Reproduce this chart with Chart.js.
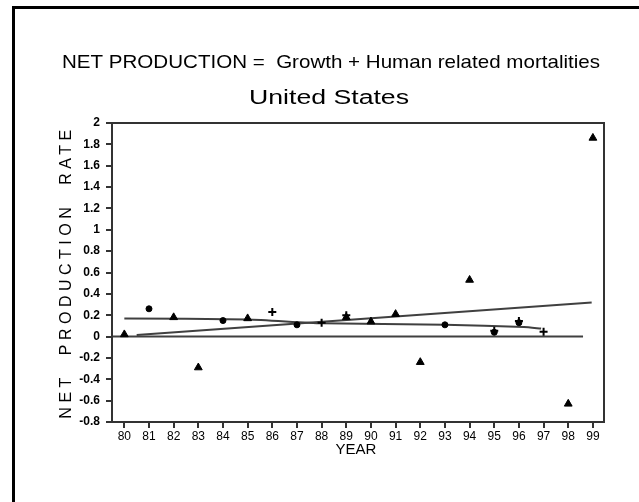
<!DOCTYPE html>
<html>
<head>
<meta charset="utf-8">
<script src="https://cdn.jsdelivr.net/npm/chart.js@4/dist/chart.umd.min.js"></script>
<style>
html,body{margin:0;padding:0;background:#fff;}
#wrap{width:639px;height:502px;position:relative;}
</style>
</head>
<body>
<div id="wrap"><canvas id="c" width="639" height="502"></canvas></div>
<script>
// ---- data ----
const titleLine1 = "NET PRODUCTION =  Growth + Human related mortalities";
const titleLine2 = "United States";
const yAxisTitle = "NET  PRODUCTION  RATE";
const xAxisTitle = "YEAR";
const yearTicks = [80,81,82,83,84,85,86,87,88,89,90,91,92,93,94,95,96,97,98,99];
const yearLabels = ["80","81","82","83","84","85","86","87","88","89","90","91","92","93","94","95","96","97","98","99"];
const yMin = -0.8, yMax = 2, yStep = 0.2;

const triYears  = [80, 82, 83, 85, 89, 90, 91, 92, 94, 98, 99];
const triValues = [0.02, 0.18, -0.29, 0.17, 0.18, 0.14, 0.21, -0.24, 0.53, -0.63, 1.86];
const dotYears  = [81, 84, 87, 93, 95, 96];
const dotValues = [0.26, 0.15, 0.11, 0.11, 0.04, 0.13];
const plusYears  = [86, 88, 89, 95, 96, 97];
const plusValues = [0.23, 0.13, 0.20, 0.055, 0.145, 0.045];

const riseYears  = [80.5, 98.95];
const riseValues = [0.015, 0.32];
const fallYears  = [80, 85, 88, 93, 96.2, 96.9];
const fallValues = [0.17, 0.16, 0.125, 0.11, 0.09, 0.075];
const zeroYears  = [79.5, 98.6];
const zeroValues = [0, 0];

const pts = (xs, ys) => xs.map((x, i) => ({x: x, y: ys[i]}));

const INK = '#000';
const LINE = '#404040';

const decor = {
  id: 'decor',
  beforeDraw(chart) {
    const ctx = chart.ctx;
    ctx.save();
    ctx.fillStyle = '#fff';
    ctx.fillRect(0, 0, chart.width, chart.height);
    // outer frame (left & top)
    ctx.fillStyle = '#000';
    ctx.fillRect(12, 6, 3, chart.height - 6);
    ctx.fillRect(12, 6, chart.width - 12, 3);
    ctx.restore();
  },
  afterDraw(chart) {
    const ctx = chart.ctx;
    const a = chart.chartArea;
    ctx.save();
    // plot frame
    ctx.strokeStyle = '#333';
    ctx.lineWidth = 2;
    ctx.strokeRect(a.left, a.top, a.right - a.left, a.bottom - a.top);
    ctx.fillStyle = '#000';
    ctx.textBaseline = 'alphabetic';
    ctx.textAlign = 'center';
    // titles
    ctx.font = '19px "Liberation Sans", Arial, sans-serif';
    let w = ctx.measureText(titleLine1).width;
    ctx.save();
    ctx.translate(331, 68);
    ctx.scale(538 / w, 1);
    ctx.fillText(titleLine1, 0, 0);
    ctx.restore();
    ctx.font = '20px "Liberation Sans", Arial, sans-serif';
    w = ctx.measureText(titleLine2).width;
    ctx.save();
    ctx.translate(329, 104);
    ctx.scale(Math.min(1.4, 160 / w), 1);
    ctx.fillText(titleLine2, 0, 0);
    ctx.restore();
    // y axis title
    ctx.save();
    ctx.translate(71, 272);
    ctx.rotate(-Math.PI / 2);
    ctx.font = '16px "Liberation Sans", Arial, sans-serif';
    ctx.letterSpacing = '4.5px';
    ctx.fillText(yAxisTitle, 0, 0);
    ctx.restore();
    // x axis title
    ctx.font = '15px "Liberation Sans", Arial, sans-serif';
    ctx.fillText(xAxisTitle, 356, 454);
    ctx.restore();
  }
};

new Chart(document.getElementById('c'), {
  type: 'scatter',
  data: {
    datasets: [
      {data: pts(zeroYears, zeroValues), showLine: true, borderColor: LINE, borderWidth: 2, pointRadius: 0, order: 5},
      {data: pts(riseYears, riseValues), showLine: true, borderColor: LINE, borderWidth: 2, pointRadius: 0, order: 5},
      {data: pts(fallYears, fallValues), showLine: true, borderColor: LINE, borderWidth: 2, pointRadius: 0, tension: 0.2, order: 5},
      {data: pts(triYears, triValues), pointStyle: 'triangle', pointRadius: 4.5, backgroundColor: INK, borderColor: INK, borderWidth: 1, order: 1},
      {data: pts(dotYears, dotValues), pointStyle: 'circle', pointRadius: 3, backgroundColor: INK, borderColor: INK, borderWidth: 1, order: 1},
      {data: pts(plusYears, plusValues), pointStyle: 'cross', pointRadius: 4, backgroundColor: INK, borderColor: INK, borderWidth: 2, order: 1}
    ]
  },
  options: {
    responsive: false,
    animation: false,
    devicePixelRatio: 1,
    layout: {padding: {left: 0, right: 35, top: 123, bottom: 0}},
    plugins: {legend: {display: false}, title: {display: false}, tooltip: {enabled: false}},
    scales: {
      x: {
        type: 'linear', min: 79.5, max: 99.45,
        afterFit(s) { s.height = 80; },
        afterBuildTicks(s) { s.ticks = yearTicks.map(v => ({value: v})); },
        grid: {drawOnChartArea: false, drawTicks: true, tickLength: 6, color: '#333', lineWidth: 2},
        border: {display: true, color: '#333', width: 2},
        ticks: {
          autoSkip: false, maxRotation: 0, padding: 1, color: '#000',
          font: {family: '"Liberation Sans", Arial, sans-serif', size: 12},
          callback(v) { const i = yearTicks.indexOf(v); return i >= 0 ? yearLabels[i] : ''; }
        }
      },
      y: {
        type: 'linear', min: yMin, max: yMax,
        afterFit(s) { s.width = 112; },
        grid: {drawOnChartArea: false, drawTicks: true, tickLength: 6, color: '#333', lineWidth: 2},
        border: {display: true, color: '#333', width: 2},
        ticks: {
          stepSize: yStep, padding: 6, color: '#000',
          font: {family: '"Liberation Sans", Arial, sans-serif', size: 12, weight: 'bold'},
          callback(v) { return String(Math.round(v * 10) / 10); }
        }
      }
    }
  },
  plugins: [decor]
});
</script>
</body>
</html>
